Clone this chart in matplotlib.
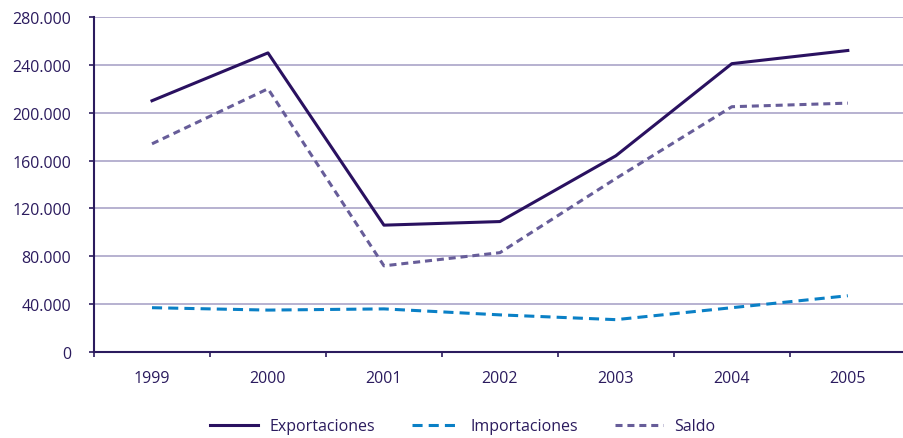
import matplotlib
matplotlib.use('Agg')
import matplotlib.pyplot as plt
from matplotlib.ticker import FuncFormatter, FixedLocator

years = ['1999', '2000', '2001', '2002', '2003', '2004', '2005']
exportaciones = [210000, 250000, 106000, 109000, 164000, 241000, 252000]
importaciones = [37000, 35000, 36000, 31000, 27000, 37000, 47000]
saldo = [174000, 220000, 72000, 83000, 145000, 205000, 208000]

text_color = '#2b1b5e'
grid_color = '#aaa4c8'

plt.rcParams['font.family'] = ['Open Sans', 'DejaVu Sans']

fig = plt.figure(figsize=(9.04, 4.39), dpi=100)
ax = fig.add_axes([0.104, 0.196, 0.898, 0.763])

x = list(range(len(years)))
ax.plot(x, exportaciones, color='#2a1160', lw=2.2, label='Exportaciones')
ax.plot(x, importaciones, color='#0a80c6', lw=2.2, dashes=(3.3, 2.0), label='Importaciones')
ax.plot(x, saldo, color='#675d99', lw=2.2, dashes=(2.3, 1.6), label='Saldo')

ax.set_xlim(-0.5, 6.5)
ax.set_ylim(0, 280000)
ax.set_yticks(range(0, 280001, 40000))
ax.yaxis.set_major_formatter(FuncFormatter(lambda v, p: f'{int(v):,}'.replace(',', '.')))
ax.set_xticks(x)
ax.set_xticklabels(years)
ax.xaxis.set_minor_locator(FixedLocator([i - 0.5 for i in range(len(years) + 1)]))
ax.tick_params(axis='x', which='major', length=0, pad=13, labelsize=11.5, labelcolor=text_color)
ax.tick_params(axis='x', which='minor', length=3.6, width=1.2, color=text_color, direction='out')
ax.tick_params(axis='y', length=3.6, width=1.2, color=text_color, labelsize=11.5,
               labelcolor=text_color, pad=13)

ax.grid(axis='y', color=grid_color, lw=1.2)
ax.set_axisbelow(True)
for side in ['top', 'right']:
    ax.spines[side].set_visible(False)
for side in ['left', 'bottom']:
    ax.spines[side].set_color(text_color)
    ax.spines[side].set_linewidth(1.5)

leg = fig.legend(loc='center', bbox_to_anchor=(0.512, 0.027), ncol=3, frameon=False,
                 fontsize=11.5, handlelength=3.0, columnspacing=2.3, handletextpad=0.7)
for t in leg.get_texts():
    t.set_color(text_color)

fig.savefig('out.png', dpi=100)
